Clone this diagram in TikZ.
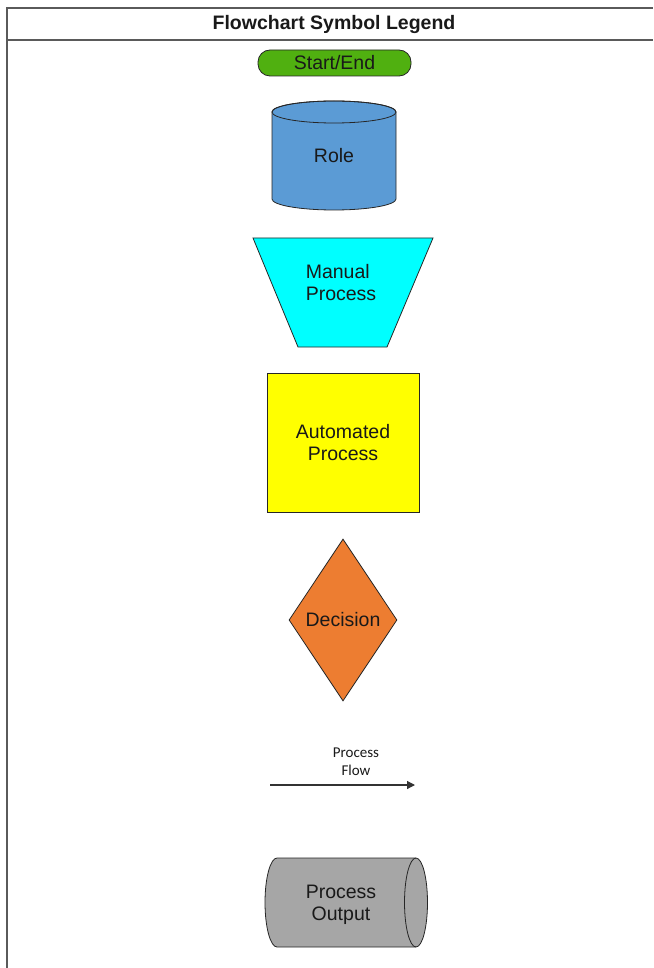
\documentclass[tikz,border=0pt]{standalone}
\usepackage{fontspec}
\setmainfont{Liberation Sans}
\newfontfamily\flowfont{Carlito}
\usetikzlibrary{shapes.geometric, arrows.meta}
\definecolor{startgreen}{RGB}{80,176,16}
\definecolor{roleblue}{RGB}{91,155,213}
\definecolor{manualcyan}{RGB}{0,255,255}
\definecolor{autoyellow}{RGB}{255,255,0}
\definecolor{decorange}{RGB}{237,125,49}
\definecolor{outgray}{RGB}{166,166,166}
\definecolor{framegray}{RGB}{90,90,90}
\tikzset{
  symb/.style = {draw = black!85, line width = .8pt, inner sep = 0pt},
  lbl/.style = {text = black!90, font = \fontsize{19.5}{22}\selectfont, align = center},
  frame/.style = {draw = framegray, line width = 1.5pt}
}
\begin{document}
\begin{tikzpicture}[x = 1pt, y = -1pt]
                \useasboundingbox (0,0) rectangle (653,968);
                \draw[frame] (7,968) -- (7,8) -- (653,8);
                \draw[frame] (7,40) -- (653,40);
                \node[text = black!90, font = \fontsize{19.5}{22}\selectfont\bfseries] (title) at (334,24.5) {Flowchart Symbol Legend};
                \node[symb, lbl, fill = startgreen, rounded corners = 12pt, minimum width = 153pt, minimum height = 26pt] (start) at (334.5,63) {Start/End};
                \filldraw[symb, fill = roleblue] (272,112) -- (272,199) arc[start angle = 180, end angle = 0, x radius = 62, y radius = 11] -- (396,112) arc[start angle = 0, end angle = -180, x radius = 62, y radius = 11] -- cycle;
                \draw[symb] (334,112) ellipse[x radius = 62, y radius = 11];
                \node[lbl] (role) at (334,156) {Role};
                \filldraw[symb, fill = manualcyan] (253,238) -- (433,238) -- (387,347) -- (298,347) -- cycle;
                \node[lbl, align = left] (manual) at (341,283) {Manual\\Process};
                \node[symb, lbl, fill = autoyellow, minimum width = 152pt, minimum height = 139pt] (auto) at (343,442.5) {Automated\\Process};
                \node[symb, lbl, diamond, aspect = .667, fill = decorange, minimum width = 108pt, minimum height = 162pt] (decision) at (343,620) {Decision};
                \node[text = black!90, font = \flowfont\fontsize{15}{18}\selectfont, align = center] (flowlbl) at (356,762) {Process\\Flow};
                \coordinate (flowa) at (270,785);
                \coordinate (flowb) at (415,785);
                \draw[-{Triangle[length = 8pt, width = 8pt]}, line width = 1.2pt, black!80] (flowa) -- (flowb);
                \filldraw[symb, fill = outgray] (277,858) -- (416,858) arc[start angle = -90, end angle = 90, x radius = 11.5, y radius = 44.5] -- (277,947) arc[start angle = 90, end angle = 270, x radius = 12, y radius = 44.5] -- cycle;
                \draw[symb] (416,858) arc[start angle = -90, end angle = -270, x radius = 11.5, y radius = 44.5];
                \node[lbl] (output) at (341,905) {Process\\Output};
\end{tikzpicture}
\end{document}
